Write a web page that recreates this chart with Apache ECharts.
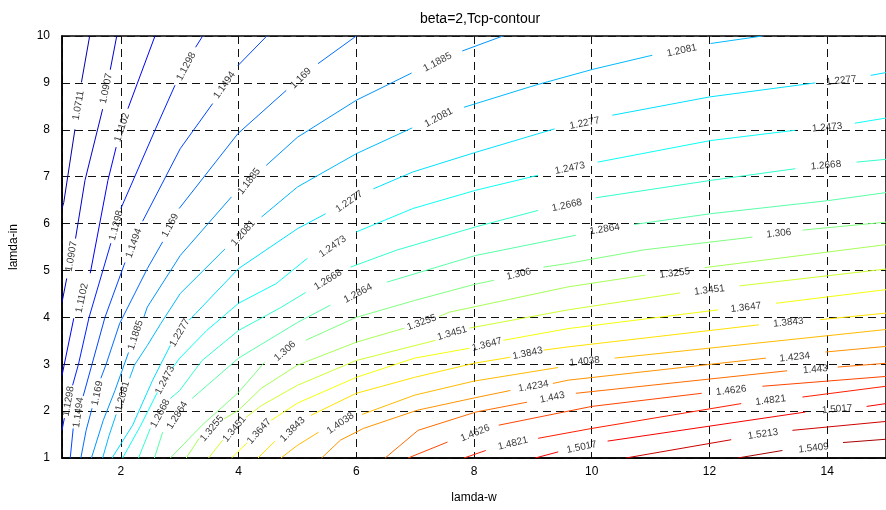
<!DOCTYPE html>
<html><head><meta charset="utf-8">
<script src="https://cdn.jsdelivr.net/npm/echarts@6/dist/echarts.min.js"></script>
<style>html,body{margin:0;padding:0;background:#fff}#c{width:886px;height:510px}</style>
</head><body><div id="c"></div>
<script>
// Contour levels (Tcp)
const levels = [1.0711,1.0907,1.1102,1.1298,1.1494,1.169,1.1885,1.2081,1.2277,1.2473,1.2668,1.2864,1.306,1.3255,1.3451,1.3647,1.3843,1.4038,1.4234,1.443,1.4626,1.4821,1.5017,1.5213,1.5409];
// Axis ticks
const xTicks = [2,4,6,8,10,12,14];
const yTicks = [1,2,3,4,5,6,7,8,9,10];

// Contour polylines [lamda-w, lamda-in], one array of segments per level (gaps at inline labels)
const lv_1_0711 = [[[1.47,10],[1.33,9.01]], [[1.22,8.01],[1.03,6.45],[1.0,6.32]]];
const lv_1_0907 = [[[1.93,10],[1.82,9.28]], [[1.69,8.44],[1.39,6.92],[1.23,5.68]], [[1.08,4.83],[1.0,4.32]]];
const lv_1_1102 = [[[2.58,10],[2.12,8.45]], [[1.92,7.63],[1.78,6.92],[1.48,4.94]], [[1.2,3.98],[1.0,2.76]]];
const lv_1_1298 = [[[3.39,10],[3.27,9.76]], [[2.92,8.95],[2.59,8.02],[2.0,6.32]], [[1.83,5.58],[1.46,4.0],[1.28,3.0],[1.18,2.55]], [[1.04,1.85],[1.0,1.59]]];
const lv_1_1494 = [[[4.48,10],[3.99,9.37]], [[3.56,8.56],[3.01,7.6],[2.37,6.05]], [[2.07,5.17],[1.73,4.0],[1.51,3.0],[1.36,2.32]], [[1.19,1.63],[1.14,1.0]]];
const lv_1_169  = [[[6.0,10],[5.35,9.41]], [[4.81,8.84],[3.99,7.92],[2.99,6.32]], [[2.71,5.61],[2.45,5.04],[1.98,3.87],[1.75,3.0],[1.66,2.7]], [[1.51,2.06],[1.41,1.59],[1.32,1.0]]];
const lv_1_1885 = [[[8.49,10],[7.8,9.68]], [[6.94,9.21],[6.0,8.63],[5.0,7.84],[4.47,7.24]], [[3.88,6.57],[3.01,5.32],[2.45,4.22],[2.39,4.0]], [[2.13,3.25],[1.9,2.44],[1.7,1.8],[1.5,1.0]]];
const lv_1_2081 = [[[12.9,10],[12.02,9.84]], [[11.03,9.59],[10.02,9.29],[9.04,8.95],[7.83,8.48]], [[6.95,8.04],[6.0,7.49],[5.0,6.78],[4.39,6.14]], [[3.77,5.46],[3.01,4.51],[2.68,3.87],[2.45,3.4],[2.23,2.98],[2.15,2.7]], [[1.92,1.93],[1.8,1.48],[1.69,1.0]]];
const lv_1_2277 = [[[15,9.22],[14.74,9.16]], [[13.8,9.0],[12.0,8.7],[10.35,8.31]], [[9.37,8.02],[8.03,7.52],[6.96,7.1],[6.29,6.74]], [[5.48,6.21],[5.0,5.89],[4.0,5.04],[3.27,4.08],[3.16,3.94]], [[2.84,3.4],[2.54,2.66],[2.2,1.7],[1.85,1.0]]];
const lv_1_2473 = [[[15,8.25],[14.47,8.14]], [[13.46,7.99],[12.02,7.77],[10.1,7.31]], [[9.09,7.03],[8.03,6.71],[6.96,6.32],[6.0,5.82]], [[5.17,5.26],[4.64,4.72],[4.0,4.3],[3.46,3.72],[3.0,3.13],[2.87,2.91]], [[2.62,2.4],[2.34,1.7],[2.03,1.0]]];
const lv_1_2668 = [[[15,7.37],[14.5,7.31]], [[13.46,7.17],[12.02,6.92],[10.07,6.55]], [[9.09,6.28],[8.03,5.93],[6.68,5.43],[5.9,5.07]], [[5.14,4.53],[4.72,4.21],[4.0,3.72],[3.38,3.08],[3.0,2.44],[2.84,2.27]], [[2.5,1.63],[2.3,1.0]]];
const lv_1_2864 = [[[15,6.66],[14.02,6.49],[12.02,6.21],[10.72,5.98]], [[9.73,5.75],[8.03,5.32],[6.52,4.75]], [[5.56,4.26],[5.0,3.89],[4.0,3.13],[3.21,2.27]], [[2.71,1.55],[2.57,1.0]]];
const lv_1_306  = [[[15,6.03],[13.58,5.86]], [[12.73,5.71],[10.89,5.44],[9.6,5.15],[9.18,5.07]], [[8.34,4.79],[8.0,4.7],[6.99,4.36],[6.0,4.0],[5.14,3.51]], [[4.44,3.04],[4.0,2.4],[3.38,1.7],[2.84,1.0]]];
const lv_1_3255 = [[[15,5.55],[11.92,5.06]], [[10.91,4.9],[9.6,4.65],[7.58,4.11],[7.41,4.02]], [[6.82,3.77],[6.0,3.47],[5.0,2.98],[4.39,2.49],[4.0,2.02],[3.75,1.83]], [[3.33,1.42],[3.11,1.0]]];
const lv_1_3451 = [[[15,5.03],[12.51,4.67]], [[11.5,4.52],[9.6,4.16],[7.92,3.77]], [[7.35,3.51],[6.0,3.08],[5.0,2.55],[4.39,2.12],[4.13,1.87]], [[3.73,1.38],[3.49,1.0]]];
const lv_1_3647 = [[[15,4.59],[13.13,4.3]], [[12.15,4.16],[9.6,3.76],[8.5,3.51]], [[7.92,3.34],[6.99,3.13],[6.0,2.72],[5.0,2.17],[4.55,1.8]], [[4.15,1.33],[3.88,1.0]]];
const lv_1_3843 = [[[15,4.09],[13.88,3.95]], [[12.84,3.84],[9.6,3.37],[9.18,3.3]], [[8.62,3.15],[8.0,3.02],[6.99,2.72],[6.0,2.38],[5.23,1.91]], [[4.62,1.36],[4.33,1.0]]];
const lv_1_4038 = [[[15,3.74],[10.39,3.13]], [[9.43,2.93],[8.0,2.64],[6.99,2.34],[6.1,1.93]], [[5.36,1.55],[5.0,1.27],[4.72,1.0]]];
const lv_1_4234 = [[[15,3.38],[13.97,3.26]], [[12.96,3.13],[9.6,2.66],[9.34,2.59]], [[8.62,2.44],[8.0,2.28],[7.04,2.02],[6.12,1.63],[5.73,1.38],[5.41,1.0]]];
const lv_1_443  = [[[15,3.02],[14.18,2.94]], [[13.32,2.86],[9.73,2.38]], [[8.9,2.19],[8.03,1.98],[7.05,1.59],[6.49,1.0]]];
const lv_1_4626 = [[[15,2.74],[12.9,2.53]], [[11.87,2.38],[10.0,2.1],[8.42,1.7]], [[7.55,1.34],[6.88,1.0]]];
const lv_1_4821 = [[[15,2.53],[13.58,2.3]], [[12.54,2.16],[10.0,1.63],[9.09,1.42]], [[8.2,1.16],[7.83,1.0]]];
const lv_1_5017 = [[[15,2.16],[14.67,2.1]], [[13.63,1.98],[10.27,1.36]], [[9.43,1.13],[9.04,1.0]]];
const lv_1_5213 = [[[15,1.78],[13.41,1.59]], [[12.37,1.39],[10.58,1.0]]];
const lv_1_5409 = [[[15,1.4],[14.27,1.33]], [[13.24,1.16],[12.48,1.0]]];

// Inline label anchors [lamda-w, lamda-in] per level
const lb_1_0711 = [[1.28,8.52]];
const lb_1_0907 = [[1.75,8.88],[1.16,5.3]];
const lb_1_1102 = [[2.02,8.05],[1.34,4.41]];
const lb_1_1298 = [[3.11,9.35],[1.92,5.96],[1.11,2.21]];
const lb_1_1494 = [[3.76,8.95],[2.22,5.58],[1.28,1.97]];
const lb_1_169  = [[5.06,9.1],[2.84,5.96],[1.6,2.38]];
const lb_1_1885 = [[7.38,9.44],[4.18,6.9],[2.25,3.62]];
const lb_1_2081 = [[11.53,9.69],[7.4,8.26],[4.08,5.8],[2.03,2.32]];
const lb_1_2277 = [[14.24,9.05],[9.88,8.14],[5.88,6.47],[3.0,3.67]];
const lb_1_2473 = [[14.0,8.05],[9.63,7.18],[5.6,5.51],[2.75,2.66]];
const lb_1_2668 = [[13.98,7.24],[9.58,6.39],[5.52,4.8],[2.67,1.95]];
const lb_1_2864 = [[10.22,5.88],[6.03,4.51],[2.96,1.91]];
const lb_1_306  = [[13.18,5.79],[8.76,4.92],[4.79,3.28]];
const lb_1_3255 = [[11.41,4.94],[7.11,3.89],[3.55,1.63]];
const lb_1_3451 = [[12.0,4.58],[7.63,3.66],[3.93,1.62]];
const lb_1_3647 = [[12.62,4.21],[8.22,3.42],[4.35,1.57]];
const lb_1_3843 = [[13.34,3.89],[8.91,3.23],[4.92,1.61]];
const lb_1_4038 = [[9.88,3.06],[5.73,1.74]];
const lb_1_4234 = [[13.45,3.15],[9.01,2.53]];
const lb_1_443  = [[13.8,2.89],[9.33,2.29]];
const lb_1_4626 = [[12.37,2.44],[8.02,1.53]];
const lb_1_4821 = [[13.04,2.23],[8.66,1.31]];
const lb_1_5017 = [[14.17,2.04],[9.83,1.23]];
const lb_1_5213 = [[12.91,1.51]];
const lb_1_5409 = [[13.77,1.21]];

const segsByLevel = [lv_1_0711,lv_1_0907,lv_1_1102,lv_1_1298,lv_1_1494,lv_1_169,lv_1_1885,lv_1_2081,lv_1_2277,lv_1_2473,lv_1_2668,lv_1_2864,lv_1_306,lv_1_3255,lv_1_3451,lv_1_3647,lv_1_3843,lv_1_4038,lv_1_4234,lv_1_443,lv_1_4626,lv_1_4821,lv_1_5017,lv_1_5213,lv_1_5409];
const labsByLevel = [lb_1_0711,lb_1_0907,lb_1_1102,lb_1_1298,lb_1_1494,lb_1_169,lb_1_1885,lb_1_2081,lb_1_2277,lb_1_2473,lb_1_2668,lb_1_2864,lb_1_306,lb_1_3255,lb_1_3451,lb_1_3647,lb_1_3843,lb_1_4038,lb_1_4234,lb_1_443,lb_1_4626,lb_1_4821,lb_1_5017,lb_1_5213,lb_1_5409];

// ---- styling ----
const labelAngles = [[80],[78,80],[72,78],[62,75,80],[55,70,82],[45,62,78],[28,52,72],[12,28,48,75],[6,12,35,60],[5,12,35,62],[5,12,32,62],[9,28,58],[6,13,42],[7,20,50],[7,16,50],[7,14,48],[6,12,45],[6,35],[6,10],[5,12],[7,22],[7,14],[5,12],[8],[6]];
const colors = ['rgb(0,0,167)','rgb(0,0,206)','rgb(0,0,245)','rgb(0,29,255)','rgb(0,69,255)','rgb(0,108,255)','rgb(0,147,255)','rgb(0,186,255)','rgb(0,226,255)','rgb(10,255,245)','rgb(49,255,206)','rgb(88,255,167)','rgb(128,255,128)','rgb(167,255,88)','rgb(206,255,49)','rgb(245,255,10)','rgb(255,226,0)','rgb(255,186,0)','rgb(255,147,0)','rgb(255,108,0)','rgb(255,69,0)','rgb(255,29,0)','rgb(245,0,0)','rgb(206,0,0)','rgb(167,0,0)'];
const FONT = '"Liberation Sans", Arial, Helvetica, sans-serif';

const series = [];
segsByLevel.forEach((segs, i) => {
  segs.forEach(seg => {
    series.push({type:'line', data: seg, symbol:'none', showSymbol:false, silent:true, z:2,
      lineStyle:{color:colors[i], width:1}, clip:true});
  });
});
labsByLevel.forEach((labs, i) => {
  series.push({type:'scatter', silent:true, z:5, symbolSize:1, itemStyle:{color:'rgba(0,0,0,0)'},
    data: labs.map((p, k) => ({value:p, label:{rotate: labelAngles[i][k]}})),
    label:{show:true, position:'inside', formatter: () => String(levels[i]), fontSize:10, color:'#000', fontFamily:FONT}});
});

const chart = echarts.init(document.getElementById('c'), null, {renderer:'canvas'});
chart.setOption({
  animation:false,
  backgroundColor:'#fff',
  title:{text:'beta=2,Tcp-contour', left:475, top:7, textAlign:'center',
    textStyle:{fontSize:14, fontWeight:'normal', color:'#000', fontFamily:FONT}},
  grid:{left:59, right:-6, top:36, bottom:52, show:true, borderColor:'#000', borderWidth:1.5, backgroundColor:'rgba(0,0,0,0)'},
  xAxis:{type:'value', min:1, max:15, splitNumber:7, name:'lamda-w', nameLocation:'middle', nameGap:34,
    nameTextStyle:{fontSize:12, color:'#000', fontFamily:FONT},
    axisLine:{show:true, lineStyle:{color:'#000', width:1.5}}, axisTick:{show:false},
    axisLabel:{showMinLabel:false, showMaxLabel:false, color:'#000', fontSize:12, margin:8, fontFamily:FONT,
      formatter: v => xTicks.includes(v) ? String(v) : ''},
    splitLine:{show:true, lineStyle:{color:'#111', type:[8,5], width:1}}},
  yAxis:{type:'value', min:1, max:10, interval:1, name:'lamda-in', nameLocation:'middle', nameGap:42, nameRotate:90,
    nameTextStyle:{fontSize:12, color:'#000', fontFamily:FONT},
    axisLine:{show:true, lineStyle:{color:'#000', width:1.5}}, axisTick:{show:false},
    axisLabel:{color:'#000', fontSize:12, margin:12, fontFamily:FONT, formatter: v => yTicks.includes(v) ? String(v) : ''},
    splitLine:{show:true, lineStyle:{color:'#111', type:[8,5], width:1}}},
  series
});
</script></body></html>
